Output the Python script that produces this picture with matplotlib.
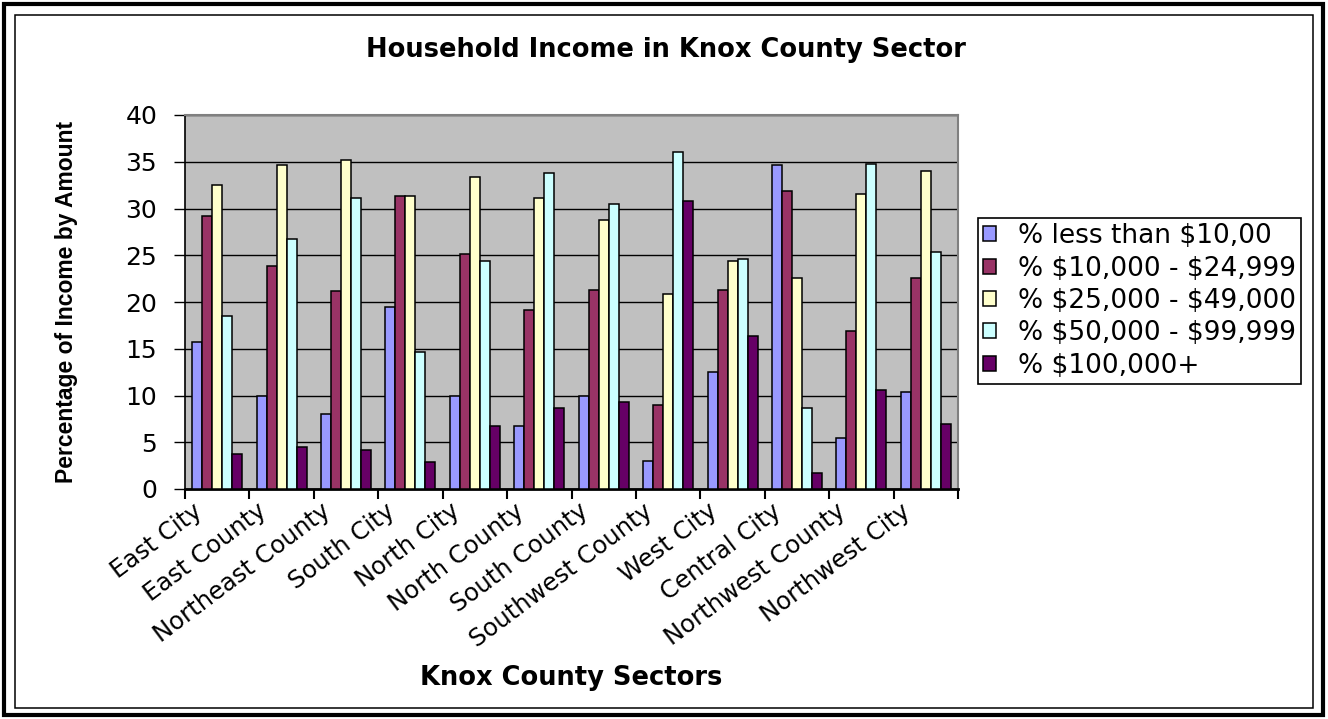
import matplotlib
matplotlib.use('Agg')
import matplotlib.pyplot as plt
from matplotlib.patches import Rectangle
import numpy as np

plt.rcParams['font.family'] = 'DejaVu Sans'
plt.rcParams['text.parse_math'] = False  # labels contain literal "$"

sectors = ['East City', 'East County', 'Northeast County', 'South City', 'North City',
           'North County', 'South County', 'Southwest County', 'West City', 'Central City',
           'Northwest County', 'Northwest City']

series_names = ['% less than $10,00', '% $10,000 - $24,999', '% $25,000 - $49,000',
                '% $50,000 - $99,999', '% $100,000+']

pct_under_10k = [15.7, 9.9, 8.0, 19.5, 9.9, 6.7, 9.9, 3.0, 12.5, 34.7, 5.5, 10.4]
pct_10k_25k = [29.2, 23.9, 21.2, 31.3, 25.1, 19.1, 21.3, 9.0, 21.3, 31.9, 16.9, 22.6]
pct_25k_50k = [32.5, 34.7, 35.2, 31.3, 33.4, 31.1, 28.8, 20.9, 24.4, 22.6, 31.6, 34.0]
pct_50k_100k = [18.5, 26.7, 31.1, 14.6, 24.4, 33.8, 30.5, 36.0, 24.6, 8.7, 34.8, 25.3]
pct_100k_plus = [3.7, 4.5, 4.2, 2.9, 6.7, 8.7, 9.3, 30.8, 16.4, 1.7, 10.6, 6.9]

colors = ['#9999FF', '#993366', '#FFFFCC', '#CCFFFF', '#660066']

W, H = 1328, 719
fig = plt.figure(figsize=(W / 100, H / 100), dpi=100)
fig.patch.set_facecolor('white')

# page frame: thick outer line + thin inner line
fig.patches.append(Rectangle((4 / W, 4 / H), 1319 / W, 711 / H, transform=fig.transFigure,
                             fill=False, edgecolor='black', linewidth=3.0))
fig.patches.append(Rectangle((15 / W, 1 - 708 / H), 1298 / W, 693 / H, transform=fig.transFigure,
                             fill=False, edgecolor='black', linewidth=1.1))

ax = fig.add_axes([185 / W, 1 - 489 / H, 773 / W, 374 / H])
ax.set_facecolor('#C0C0C0')

x = np.arange(len(sectors))
w = 0.155
all_series = [pct_under_10k, pct_10k_25k, pct_25k_50k, pct_50k_100k, pct_100k_plus]
for j, (vals, name, col) in enumerate(zip(all_series, series_names, colors)):
    ax.bar(x + (j - 2) * w, vals, width=w, color=col, edgecolor='black', linewidth=1.1,
           label=name, zorder=3)

ax.set_xlim(-0.5, len(sectors) - 0.5)
ax.set_ylim(0, 40)
ax.set_yticks(np.arange(0, 41, 5))
ax.yaxis.grid(True, color='black', linewidth=1.0)
ax.set_axisbelow(True)

# category labels sit a little left of the group centre, like Excel does
ax.set_xticks(x - 0.28)
ax.set_xticklabels(sectors, rotation=37, ha='right', va='center', rotation_mode='anchor',
                   fontsize=17.5)
ax.set_xticks(np.arange(-0.5, len(sectors), 1), minor=True)
ax.tick_params(axis='x', which='major', length=0, pad=14)
ax.tick_params(axis='x', which='minor', length=7, width=1.5, direction='out')
ax.tick_params(axis='y', length=8, width=1.0, pad=12, labelsize=18)

for s in ['top', 'right']:
    ax.spines[s].set_color('#808080')
    ax.spines[s].set_linewidth(1.5)
ax.spines['left'].set_linewidth(1.2)
ax.spines['bottom'].set_linewidth(2.0)

ax.set_ylabel('Percentage of Income by Amount', fontsize=16.5, fontweight='bold',
              family='Liberation Sans')
ax.yaxis.set_label_coords(-0.138, 0.5)
ax.set_xlabel('Knox County Sectors', fontsize=18.5, fontweight='bold')
ax.xaxis.set_label_coords(0.5, -0.47)

fig.text(666 / W, 1 - 50 / H, 'Household Income in Knox County Sector', ha='center',
         va='center', fontsize=18.5, fontweight='bold')

leg = ax.legend(loc='upper left', bbox_to_anchor=(978 / W, 1 - 218 / H),
                bbox_transform=fig.transFigure, borderaxespad=0, fontsize=19,
                handlelength=0.5, handleheight=0.5, handletextpad=0.8, labelspacing=0.24,
                borderpad=0.2, fancybox=False, framealpha=1)
leg.get_frame().set_edgecolor('black')
leg.get_frame().set_linewidth(1.2)

fig.savefig('out.png', dpi=100)
